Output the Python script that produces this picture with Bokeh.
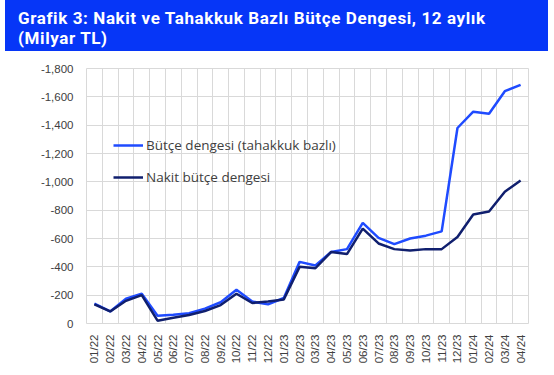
from bokeh.plotting import figure
from bokeh.layouts import column
from bokeh.models import (Range1d, FixedTicker, NumeralTickFormatter, Legend, LegendItem, Div)
from bokeh.embed import file_html
from bokeh.resources import INLINE
import math

months = ["01/22", "02/22", "03/22", "04/22", "05/22", "06/22", "07/22", "08/22", "09/22",
          "10/22", "11/22", "12/22", "01/23", "02/23", "03/23", "04/23", "05/23", "06/23",
          "07/23", "08/23", "09/23", "10/23", "11/23", "12/23", "01/24", "02/24", "03/24", "04/24"]
tahakkuk = [-140, -85, -175, -210, -55, -62, -72, -105, -150, -238, -155, -135, -180, -435,
            -410, -505, -525, -710, -605, -560, -600, -620, -650, -1380, -1495, -1480, -1640, -1685]
nakit = [-135, -85, -160, -200, -20, -40, -60, -88, -130, -210, -145, -155, -170, -400,
         -390, -505, -490, -670, -565, -525, -515, -525, -525, -610, -770, -790, -930, -1010]
y_ticks = [0, -200, -400, -600, -800, -1000, -1200, -1400, -1600, -1800]
title_lines = ["Grafik 3: Nakit ve Tahakkuk Bazlı Bütçe Dengesi, 12 aylık", "(Milyar TL)"]
series_names = ["Bütçe dengesi (tahakkuk bazlı)", "Nakit bütçe dengesi"]

xs = [i + 0.5 for i in range(len(months))]

# ---- title banner ----
BW, BH, BL = 548, 51, 5
banner_html = (
    '<div style="margin:0 0 0 %dpx; width:%dpx; height:%dpx; box-sizing:border-box; '
    'padding:8px 0 0 13px; background:#0636f7; color:white; font-family:Roboto; '
    'font-weight:bold; font-size:17px; letter-spacing:0.6px; line-height:20px; '
    'white-space:nowrap;">%s</div>'
    % (BL, BW - BL, BH, "<br>".join(title_lines))
)
banner = Div(text=banner_html, width=BW, height=BH, margin=(0, 0, 0, 0))

# ---- main chart ----
W, H = 554, 375 - BH
FL, FR, FT, FB = 86, 528, 68 - BH, 323 - BH  # frame edges
p = figure(width=W, height=H, output_backend="svg", toolbar_location=None,
           x_range=Range1d(0, len(months)), y_range=Range1d(0, -1800),
           min_border_left=FL, min_border_right=W - FR, min_border_top=FT,
           min_border_bottom=H - FB)
try:
    p.title = None
except Exception:
    p.title.visible = False
p.background_fill_color = "white"
p.border_fill_color = "white"
p.outline_line_color = "#d9d9d9"
p.outline_line_width = 1

p.xaxis.ticker = FixedTicker(ticks=xs)
p.xaxis.major_label_overrides = {x: m for x, m in zip(xs, months)}
p.xaxis.major_label_orientation = math.pi / 2
p.yaxis.ticker = FixedTicker(ticks=y_ticks)
p.yaxis.formatter = NumeralTickFormatter(format="0,0")
for ax in (p.xaxis, p.yaxis):
    ax.axis_line_color = None
    ax.major_tick_line_color = None
    ax.minor_tick_line_color = None
    ax.major_tick_out = 0
    ax.major_tick_in = 0
    ax.major_label_text_font = "Liberation Sans"
    ax.major_label_text_font_size = "11.5px"
    ax.major_label_text_color = "#404040"
p.yaxis.major_label_standoff = 13
p.xaxis.major_label_standoff = 11

p.xgrid.ticker = FixedTicker(ticks=list(range(len(months) + 1)))
p.ygrid.ticker = FixedTicker(ticks=y_ticks)
for g in (p.xgrid, p.ygrid):
    g.grid_line_color = "#d9d9d9"
    g.grid_line_width = 1

r1 = p.line(xs, tahakkuk, line_color="#1f4bff", line_width=2.5)
r2 = p.line(xs, nakit, line_color="#101f6e", line_width=2.5)

legend = Legend(items=[LegendItem(label=series_names[0], renderers=[r1]),
                       LegendItem(label=series_names[1], renderers=[r2])],
                location=(27, 136), orientation="vertical")
legend.background_fill_alpha = 0
legend.border_line_color = None
legend.padding = 0
legend.margin = 0
legend.spacing = 12
legend.glyph_width = 30
legend.glyph_height = 20
legend.label_height = 20
legend.label_standoff = 3
legend.label_text_font = "Open Sans"
legend.label_text_font_size = "13.5px"
legend.label_text_color = "#404040"
p.add_layout(legend, "center")

layout = column(banner, p, spacing=0)
open("out.html", "w").write(file_html(layout, INLINE))
